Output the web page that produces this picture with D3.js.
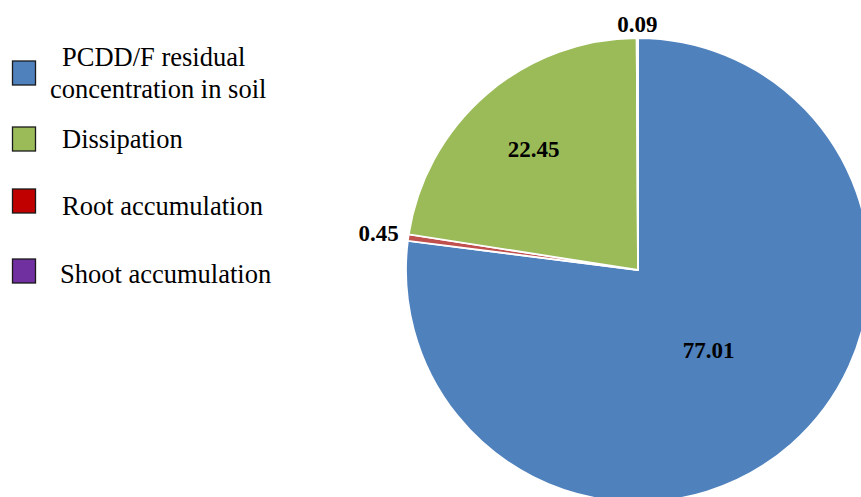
<!DOCTYPE html>
<html>
<head>
<meta charset="utf-8">
<script src="https://cdn.jsdelivr.net/npm/d3@7"></script>
<style>
  html, body { margin: 0; padding: 0; background: #fff; }
  svg { display: block; }
</style>
</head>
<body>
<svg id="chart" width="861" height="497"></svg>
<script>
// Fate of PCDD/F in the soil-plant system (%)
const categories = ["PCDD/F residual concentration in soil", "Root accumulation", "Dissipation", "Shoot accumulation"];
const values = [77.01, 0.45, 22.45, 0.09];
const valueLabels = ["77.01", "0.45", "22.45", "0.09"];
const sliceColors = ["#4F81BD", "#C0504D", "#9BBB59", "#8064A2"];

// Legend entries (drawn in this order)
const legendLines = [
  ["PCDD/F residual", "concentration in soil"],
  ["Dissipation"],
  ["Root accumulation"],
  ["Shoot accumulation"]
];
const legendColors = ["#4F81BD", "#9BBB59", "#C00000", "#7030A0"];

const svg = d3.select("#chart");
const cx = 638, cy = 270, radius = 232;

const pie = d3.pie().sort(null).value(d => d)(values);
const arc = d3.arc().innerRadius(0).outerRadius(radius);

const g = svg.append("g").attr("transform", `translate(${cx},${cy})`);

g.selectAll("path.slice")
  .data(pie)
  .join("path")
  .attr("class", "slice")
  .attr("d", arc)
  .attr("fill", (d, i) => sliceColors[i])
  .attr("stroke", "#fff")
  .attr("stroke-width", 1.8)
  .attr("stroke-linejoin", "miter");

// Data labels: large slices inside, small slices outside the rim
const font = "'Liberation Serif', 'Times New Roman', serif";
const labelPos = (d, i) => {
  const a = (d.startAngle + d.endAngle) / 2;
  const big = d.endAngle - d.startAngle > 0.5;
  let r;
  if (big) r = radius * (i === 0 ? 0.46 : 0.69);
  else r = radius + (Math.abs(Math.sin(a)) > 0.7 ? 30 : 14);
  return [Math.sin(a) * r, -Math.cos(a) * r];
};

g.selectAll("text.val")
  .data(pie)
  .join("text")
  .attr("class", "val")
  .attr("x", (d, i) => labelPos(d, i)[0])
  .attr("y", (d, i) => labelPos(d, i)[1])
  .attr("dy", "0.35em")
  .attr("text-anchor", "middle")
  .attr("font-family", font)
  .attr("font-weight", "bold")
  .attr("font-size", 23)
  .attr("fill", "#000")
  .text((d, i) => valueLabels[i]);

// Legend
const legendY = [73, 139, 201, 271];
const baselines = [[66, 98], [148], [215], [283]];
const textX = [[62, 50], [62], [62], [60]];
const lg = svg.append("g");
legendLines.forEach((lines, k) => {
  const y = legendY[k];
  lg.append("rect")
    .attr("x", 12.5).attr("y", y - 12)
    .attr("width", 23).attr("height", 24)
    .attr("fill", legendColors[k])
    .attr("stroke", "#1a1a1a").attr("stroke-width", 1.3);
  lines.forEach((t, j) => {
    lg.append("text")
      .attr("x", textX[k][j]).attr("y", baselines[k][j])
      .attr("font-family", font)
      .attr("font-size", 26.5)
      .attr("fill", "#000")
      .text(t);
  });
});
</script>
</body>
</html>
